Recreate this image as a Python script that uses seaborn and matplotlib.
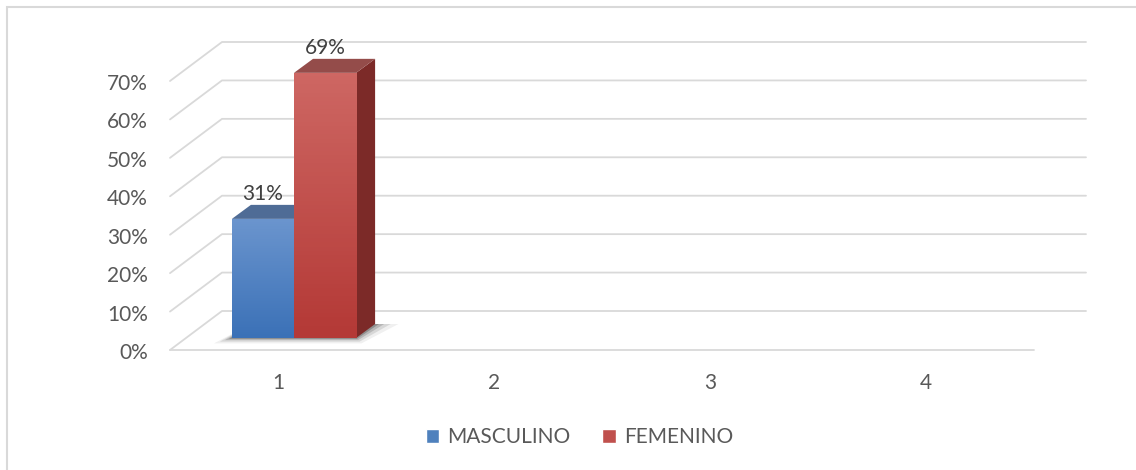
import numpy as np
import pandas as pd
import matplotlib
matplotlib.use("Agg")
import matplotlib.pyplot as plt
import seaborn as sns
from matplotlib.patches import Polygon, Patch, Rectangle
from matplotlib.transforms import IdentityTransform
from matplotlib.colors import LinearSegmentedColormap

# datos del gráfico
categorias = ["1", "2", "3", "4"]
series = ["MASCULINO", "FEMENINO"]
masculino = [31, np.nan, np.nan, np.nan]
femenino = [69, np.nan, np.nan, np.nan]
ticks_y = [0, 10, 20, 30, 40, 50, 60, 70]

colores = {"MASCULINO": "#4f81bd", "FEMENINO": "#c0504d"}
# (claro arriba, oscuro abajo, cara superior, cara lateral)
tonos = {"MASCULINO": ("#6b95ce", "#3b71b7", "#4f6c96", "#34598f"),
         "FEMENINO": ("#ce6763", "#b43936", "#944c4a", "#7c2a28")}

DPI = 100
FRENTE = np.array([-16, -12])   # plano del suelo delantero respecto a las barras (px)
FONDO = np.array([36, 27])      # pared del fondo
PROF = np.array([19, 14])       # profundidad de cada barra
GRIS = "#595959"
TAM = 15

df = pd.DataFrame({
    "cat": categorias * 2,
    "serie": [series[0]] * 4 + [series[1]] * 4,
    "valor": masculino + femenino,
})

sns.set_theme(style="white")
plt.rcParams["font.family"] = ["Lato", "DejaVu Sans"]

fig = plt.figure(figsize=(11.36, 4.70), dpi=DPI)
ax = fig.add_axes([186 / 1136, (470 - 338) / 470, 864 / 1136, 269 / 470])

sns.barplot(data=df, x="cat", y="valor", hue="serie", order=categorias,
            hue_order=series, palette=colores, width=0.575, linewidth=0,
            ax=ax, legend=False, errorbar=None)
ax.set_xlim(-0.5, 3.5)
ax.set_ylim(0, 70)
for s in ax.spines.values():
    s.set_visible(False)
ax.set_xticks([])
ax.set_yticks([])
ax.set_xlabel("")
ax.set_ylabel("")
ax.patch.set_alpha(0)

I = IdentityTransform()


def px(x, y):
    return np.array(ax.transData.transform((x, y)))


# paredes y líneas de división
for v in ticks_y:
    fl = px(-0.5, v) + FRENTE
    bl = px(-0.5, v) + FONDO
    br = px(3.5, v) + FONDO
    fig.add_artist(plt.Line2D([fl[0], bl[0], br[0]], [fl[1], bl[1], br[1]],
                              transform=I, color="#d9d9d9", lw=1.3, zorder=0))
    fig.text(fl[0] - 22, fl[1] - 3, f"{v}%", transform=I, ha="right",
             va="center", fontsize=TAM, color=GRIS)
f0 = px(-0.5, 0) + FRENTE
f1 = px(3.5, 0) + FRENTE
fig.add_artist(plt.Line2D([f0[0], f1[0]], [f0[1], f1[1]], transform=I,
                          color="#d9d9d9", lw=1.3, zorder=0))

for i, c in enumerate(categorias):
    p = px(i, 0) + FRENTE
    fig.text(p[0], p[1] - 33, c, transform=I, ha="center", va="center",
             fontsize=TAM, color=GRIS)

# barras en 3D: sombra, caras superior y lateral, degradado frontal
barras = [b for b in ax.patches if np.isfinite(b.get_height()) and b.get_height() > 0]
if barras:
    xl = min(b.get_x() for b in barras)
    xr = max(b.get_x() + b.get_width() for b in barras)
    a, b2 = px(xl, 0), px(xr, 0)
    for k, alfa in zip([18, 12, 7, 3], [0.06, 0.10, 0.15, 0.22]):
        sombra = [a + [-k, -k * 0.3], b2 + [k * 0.3, -k * 0.3],
                  b2 + PROF + [k * 1.3, 0], a + PROF + [0, 0]]
        ax.add_patch(Polygon(sombra, closed=True, transform=I, facecolor="black",
                             alpha=alfa, lw=0, zorder=1, clip_on=False))

for serie in series:
    claro, oscuro, sup, lat = tonos[serie]
    for b in ax.containers[series.index(serie)]:
        h = b.get_height()
        if not np.isfinite(h) or h <= 0:
            continue
        x0, w = b.get_x(), b.get_width()
        p10, p01, p11 = px(x0 + w, 0), px(x0, h), px(x0 + w, h)
        ax.add_patch(Polygon([p10, p10 + PROF, p11 + PROF, p11], transform=I,
                             facecolor=lat, lw=0, zorder=2, clip_on=False))
        ax.add_patch(Polygon([p01, p11, p11 + PROF, p01 + PROF], transform=I,
                             facecolor=sup, lw=0, zorder=2, clip_on=False))
        b.set_zorder(3)
        cmap = LinearSegmentedColormap.from_list(serie, [oscuro, claro])
        img = ax.imshow(np.linspace(0, 1, 64).reshape(-1, 1), cmap=cmap,
                        extent=(x0, x0 + w, 0, h), origin="lower",
                        aspect="auto", zorder=3.1)
        img.set_clip_path(b)
        t = (p01 + p11) / 2 + PROF * [0, 1] + [0, 1]
        fig.text(t[0], t[1], f"{h:.0f}%", transform=I, ha="center",
                 va="bottom", fontsize=TAM, color="#404040")

ax.set_xlim(-0.5, 3.5)
ax.set_ylim(0, 70)

# leyenda y marco
manejadores = [Patch(facecolor=colores[s], label=s) for s in series]
fig.legend(handles=manejadores, loc="center", bbox_to_anchor=(0.51, 1 - 437 / 470),
           ncol=2, frameon=False, fontsize=TAM, handlelength=0.65,
           handleheight=0.65, handletextpad=0.4, columnspacing=1.5,
           labelcolor=GRIS)
fig.add_artist(Rectangle((7, -10), 1300, 470 - 7 + 10, transform=I, fill=False,
                         edgecolor="#d9d9d9", lw=1.5))

fig.savefig("out.png", dpi=DPI)
